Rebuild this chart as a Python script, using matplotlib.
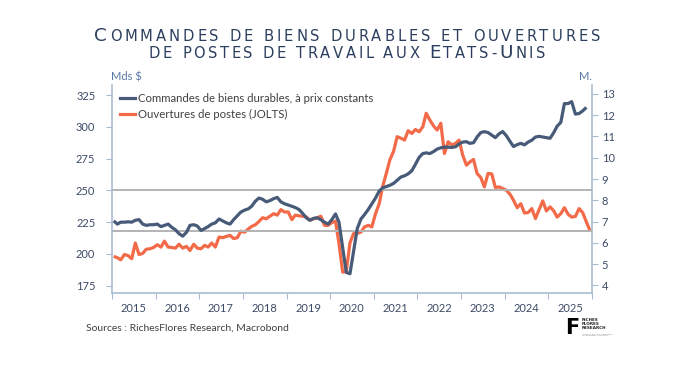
import matplotlib
matplotlib.use("Agg")
import matplotlib.pyplot as plt
import matplotlib.dates as mdates
from matplotlib.lines import Line2D
import pandas as pd

# monthly data, 2015-01 onwards
durables = [
    226.0, 223.5, 225.0, 225.0, 225.3, 225.0, 226.5, 227.0, 223.5, 222.5, 223.0, 223.0,
    223.5, 221.5, 222.5, 223.5, 221.0, 219.0, 216.0, 214.0, 217.0, 222.5, 223.0, 222.0,
    218.5, 220.0, 221.5, 223.5, 224.5, 227.5, 226.0, 224.5, 223.5, 227.0, 230.0, 233.0,
    234.5, 235.5, 237.5, 241.5, 244.0, 243.0, 241.0, 242.0, 243.5, 244.5, 241.0, 239.5,
    238.5, 237.5, 236.5, 235.0, 232.0, 228.5, 226.5, 228.0, 228.5, 227.0, 225.0, 223.5,
    227.0, 231.5, 225.0, 205.0, 185.5, 184.5, 202.0, 220.0, 227.5, 231.0, 235.0, 239.5,
    244.0, 249.5, 252.0, 253.0, 254.0, 255.5, 258.0, 260.5, 261.5, 263.0, 265.5, 270.5,
    276.0, 279.0, 279.5, 279.0, 280.5, 282.5, 283.5, 284.0, 284.0, 283.8, 284.3, 286.5,
    288.0, 288.3, 287.0, 287.5, 292.0, 295.5, 296.2, 295.5, 293.5, 291.5, 294.5, 296.3,
    293.0, 288.5, 284.5, 286.0, 287.0, 285.8, 288.0, 289.5, 292.0, 292.5, 292.0, 291.5,
    291.0, 295.5, 300.5, 303.5, 318.3, 318.3, 319.8, 310.0, 310.5, 312.5, 315.3,
]
jolts = [
    5.36, 5.30, 5.20, 5.45, 5.40, 5.25, 5.99, 5.45, 5.50, 5.70, 5.72, 5.78,
    5.91, 5.80, 6.08, 5.80, 5.78, 5.75, 5.93, 5.75, 5.83, 5.64, 5.93, 5.75,
    5.72, 5.88, 5.80, 5.99, 5.80, 6.27, 6.24, 6.30, 6.35, 6.20, 6.24, 6.55,
    6.50, 6.65, 6.77, 6.85, 7.00, 7.18, 7.13, 7.25, 7.37, 7.30, 7.56, 7.45,
    7.45, 7.09, 7.30, 7.27, 7.25, 7.22, 7.06, 7.13, 7.18, 7.25, 6.82, 6.82,
    6.95, 7.02, 5.96, 4.62, 4.65, 6.00, 6.43, 6.45, 6.50, 6.75, 6.82, 6.75,
    7.37, 7.84, 8.63, 9.26, 9.90, 10.30, 10.99, 10.92, 10.83, 11.27, 11.14, 11.33,
    11.22, 11.46, 12.09, 11.77, 11.50, 11.30, 11.62, 10.20, 10.75, 10.60, 10.67, 10.83,
    10.12, 9.65, 9.80, 9.92, 9.26, 9.07, 8.63, 9.26, 9.24, 8.60, 8.63, 8.55,
    8.47, 8.28, 8.00, 7.65, 7.84, 7.40, 7.42, 7.61, 7.14, 7.56, 7.97, 7.50,
    7.69, 7.50, 7.21, 7.37, 7.65, 7.34, 7.21, 7.24, 7.61, 7.42, 6.98, 6.58,
]
ref_levels = [250, 218]
left_ticks = [175, 200, 225, 250, 275, 300, 325]
right_ticks = [4, 5, 6, 7, 8, 9, 10, 11, 12, 13]
lbl_durables = "Commandes de biens durables, à prix constants"
lbl_jolts = "Ouvertures de postes (JOLTS)"
title_lines = ["Commandes de biens durables et ouvertures",
               "de postes de travail aux Etats-Unis"]

dates_j = pd.date_range("2015-01-01", periods=len(jolts), freq="MS") + pd.Timedelta(days=14)
dates_d = dates_j[:len(durables)]

C_DARK = "#475a78"
C_ORANGE = "#f36a49"
C_TITLE = "#2c3e5e"
C_TICK = "#3d4b66"
C_SPINE = "#a9bccf"
C_GRID = "#b3b3b3"

plt.rcParams["font.family"] = ["Lato", "DejaVu Sans"]

fig = plt.figure(figsize=(6.94, 3.74), dpi=100)
ax = fig.add_axes([112 / 694, 1 - 293 / 374, 480 / 694, 208 / 374])
ax2 = ax.twinx()

for lv in ref_levels:
    ax.axhline(lv, color=C_GRID, lw=1.4, zorder=1)
ax.plot(dates_d, durables, color=C_DARK, lw=2.3, zorder=3, solid_capstyle="butt")
ax2.plot(dates_j, jolts, color=C_ORANGE, lw=2.3, solid_capstyle="butt")

# dark line above orange
ax.set_zorder(ax2.get_zorder() + 1)
ax.patch.set_visible(False)

ax.set_xlim(pd.Timestamp("2015-01-01"), pd.Timestamp("2026-01-01"))
ax.set_ylim(169.3, 332.9)
ax2.set_ylim(3.64, 13.42)
ax.set_yticks(left_ticks)
ax2.set_yticks(right_ticks)

ax.xaxis.set_major_locator(mdates.YearLocator())
ax.xaxis.set_major_formatter(matplotlib.ticker.NullFormatter())
ax.xaxis.set_minor_locator(mdates.MonthLocator(bymonth=7))
ax.xaxis.set_minor_formatter(mdates.DateFormatter("%Y"))

for a in (ax, ax2):
    for s in a.spines.values():
        s.set_color(C_SPINE)
        s.set_linewidth(1.2)
    a.spines["top"].set_visible(False)
ax.spines["right"].set_visible(False)
ax2.spines["left"].set_visible(False)
ax2.spines["bottom"].set_visible(False)

ax.tick_params(axis="x", which="major", length=4, color=C_SPINE, direction="out")
ax.tick_params(axis="x", which="minor", length=0, pad=7, labelsize=8, labelcolor=C_TICK)
ax.tick_params(axis="y", length=4, color=C_SPINE, pad=8, labelsize=8, labelcolor=C_TICK)
ax2.tick_params(axis="y", length=4, color=C_SPINE, pad=3, labelsize=8, labelcolor=C_TICK)

handles = [Line2D([], [], color=C_DARK, lw=2.3), Line2D([], [], color=C_ORANGE, lw=2.3)]
ax.legend(handles, [lbl_durables, lbl_jolts], loc="upper left", frameon=False,
          bbox_to_anchor=(0.0, 1.0), handlelength=1.3, handletextpad=0.3,
          labelspacing=0.45, fontsize=8.2, labelcolor="#404040", borderaxespad=0.3)

fig.text(111 / 694, 1 - 77 / 374, "Mds $", color="#5a78a8", fontsize=8, va="center")
fig.text(592 / 694, 1 - 77 / 374, "M.", color="#5a78a8", fontsize=8, va="center", ha="right")

fig.text(86 / 694, 1 - 328 / 374, "Sources : RichesFlores Research, Macrobond",
         color="#404040", fontsize=7.5, va="center")

# logo
fig.text(565 / 694, 1 - 334 / 374, "F", fontsize=15, fontweight="bold",
         family="DejaVu Sans", color="black", va="baseline")
fig.text(582 / 694, 1 - 324 / 374, "RICHES\nFLORES\nRESEARCH", fontsize=3.0,
         fontweight="bold", family="DejaVu Sans", color="#222222", va="center",
         linespacing=1.0)
fig.text(582 / 694, 1 - 335 / 374, "GLOBAL MACRO RESEARCH\nINVESTMENT STRATEGY",
         fontsize=1.6, family="DejaVu Sans", color="#888888", va="center")


def smallcaps_line(text, y, big, small, target_w):
    # one Text per character so the wide spacing of the original can be copied
    renderer = fig.canvas.get_renderer()
    W = fig.bbox.width
    items = []
    for ch in text:
        sz = big if ch.isupper() else small
        kw = dict(fontsize=sz, color=C_TITLE, family="DejaVu Sans", va="baseline", ha="left")
        t = fig.text(0, y, ch.upper(), **kw)
        probe = fig.text(0, 0, ch.upper() + "|", **kw)
        bar = fig.text(0, 0, "|", **kw)
        w = probe.get_window_extent(renderer).width - bar.get_window_extent(renderer).width
        probe.remove()
        bar.remove()
        items.append((t, w))
    natural = sum(w for _, w in items)
    track = (target_w - natural) / (len(items) - 1)
    x = (W - target_w) / 2
    for t, w in items:
        t.set_x(x / W)
        x += w + track


smallcaps_line(title_lines[0], 1 - 41 / 374, 13.2, 10.6, 506)
smallcaps_line(title_lines[1], 1 - 58 / 374, 13.2, 10.6, 396)

fig.savefig("out.png", dpi=100)
